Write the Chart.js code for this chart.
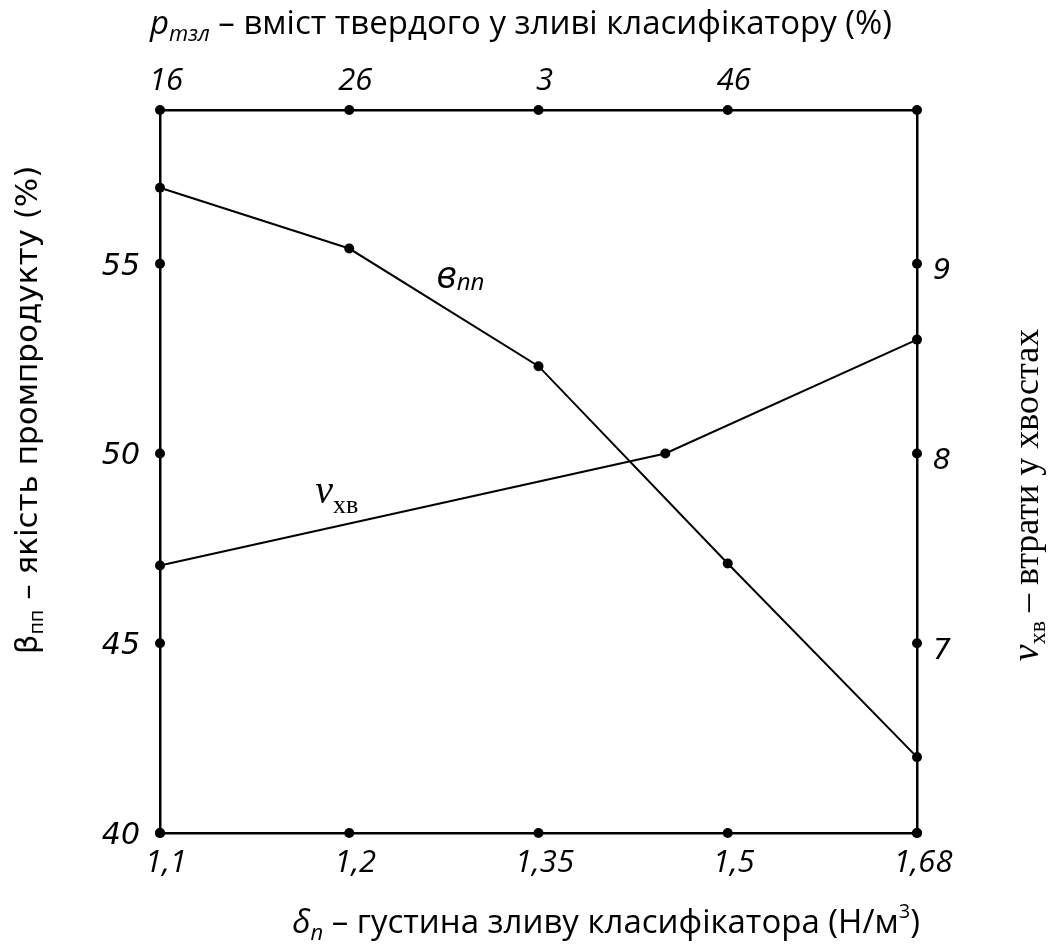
<!DOCTYPE html>
<html>
<head>
<meta charset="utf-8">
<script src="https://cdn.jsdelivr.net/npm/chart.js@4.4.0/dist/chart.umd.min.js"></script>
<style>
  html, body { margin: 0; background: #fff; }
  #wrap { width: 1053px; height: 949px; }
</style>
</head>
<body>
<div id="wrap"><canvas id="chart"></canvas></div>
<script>
// density of classifier overflow, plotted at equal spacing
const categories = ['1,1', '1,2', '1,35', '1,5', '1,68'];
const topLabels = ['16', '26', '3', '46', ''];

const betaX = [0, 1, 2, 3, 4];
const betaValues = [57.0, 55.4, 52.3, 47.1, 42.0];

const nuX = [0, 2.67, 4];
const nuValues = [7.41, 8.0, 8.6];

const leftTicks = [40, 45, 50, 55];
const rightTicks = [6, 7, 8, 9];
const rightTickLabels = ['', '7', '8', '9'];

const leftRange = [40, 59.05];
const rightRange = [6, 9.81];

// where the curve names sit (x index, value on own axis)
const betaLabelAt = [1.46, 54.35];
const nuLabelAt = [0.82, 7.74];

const SANS = '"Open Sans"';
const VERD = '"DejaVu Sans"';
const SERIF = '"Liberation Serif"';

function drawParts(ctx, parts, x, y, align) {
  let w = 0;
  parts.forEach(p => { ctx.font = p[1]; w += ctx.measureText(p[0]).width; });
  let cx = align === 'center' ? x - w / 2 : x;
  parts.forEach(p => {
    ctx.font = p[1];
    ctx.fillText(p[0], cx, y + (p[2] || 0));
    cx += ctx.measureText(p[0]).width;
  });
}

const decorations = {
  id: 'decorations',
  afterDraw(chart) {
    const ctx = chart.ctx;
    const area = chart.chartArea;
    const sc = chart.scales;
    ctx.save();
    ctx.fillStyle = '#000';
    ctx.textBaseline = 'alphabetic';

    // dots on the frame at every tick
    Object.values(sc).forEach(s => {
      s.ticks.forEach(t => {
        const p = s.getPixelForValue(t.value);
        let x, y;
        if (s.isHorizontal()) { x = p; y = s.position === 'bottom' ? area.bottom : area.top; }
        else { y = p; x = s.position === 'left' ? area.left : area.right; }
        ctx.beginPath();
        ctx.arc(x, y, 5, 0, Math.PI * 2);
        ctx.fill();
      });
    });

    // top title
    drawParts(ctx, [
      ['p', 'italic 33px ' + SANS],
      ['тзл', 'italic 22px ' + SANS, 7],
      [' – вміст твердого у зливі класифікатору (%)', '33px ' + SANS]
    ], 521, 34, 'center');

    // bottom title
    drawParts(ctx, [
      ['δ', 'italic 33px ' + SANS],
      ['п', 'italic 22px ' + SANS, 7],
      [' – густина зливу класифікатора (Н/м', '33px ' + SANS],
      ['3', '20px ' + SANS, -15],
      [')', '33px ' + SANS]
    ], 606, 933, 'center');

    // left title
    ctx.save();
    ctx.translate(37, 410);
    ctx.rotate(-Math.PI / 2);
    drawParts(ctx, [
      ['β', '31px ' + VERD],
      ['пп', '19px ' + VERD, 6],
      [' – якість промпродукту (%)', '31px ' + VERD]
    ], 0, 0, 'center');
    ctx.restore();

    // right title
    ctx.save();
    ctx.translate(1038, 495);
    ctx.rotate(-Math.PI / 2);
    drawParts(ctx, [
      ['ν', 'italic 38px ' + SERIF],
      ['хв', '24px ' + SERIF, 7],
      [' – втрати у хвостах', '36px ' + SERIF]
    ], 0, 0, 'center');
    ctx.restore();

    // curve names
    drawParts(ctx, [
      ['в', 'italic 38px ' + SANS],
      ['пп', 'italic 24px ' + SANS, 2]
    ], sc.x.getPixelForValue(betaLabelAt[0]), sc.y.getPixelForValue(betaLabelAt[1]), 'left');
    drawParts(ctx, [
      ['ν', 'italic 40px ' + SERIF],
      ['хв', '26px ' + SERIF, 10]
    ], sc.x.getPixelForValue(nuLabelAt[0]), sc.y2.getPixelForValue(nuLabelAt[1]), 'left');

    ctx.restore();
  }
};

const frame = { display: true, color: '#000', width: 2.5 };
const noGrid = { display: false, drawTicks: false };

new Chart(document.getElementById('chart'), {
  type: 'line',
  data: {
    datasets: [
      {
        label: 'β пп',
        data: betaX.map((x, i) => ({ x: x, y: betaValues[i] })),
        xAxisID: 'x', yAxisID: 'y',
        borderColor: '#000', borderWidth: 2,
        pointRadius: 5, pointBackgroundColor: '#000', pointBorderWidth: 0,
        tension: 0, clip: false
      },
      {
        label: 'ν хв',
        data: nuX.map((x, i) => ({ x: x, y: nuValues[i] })),
        xAxisID: 'x', yAxisID: 'y2',
        borderColor: '#000', borderWidth: 2,
        pointRadius: 5, pointBackgroundColor: '#000', pointBorderWidth: 0,
        tension: 0, clip: false
      }
    ]
  },
  options: {
    responsive: true,
    maintainAspectRatio: false,
    animation: false,
    layout: { padding: 0 },
    plugins: { legend: { display: false }, tooltip: { enabled: false } },
    scales: {
      x: {
        type: 'linear', position: 'bottom', min: 0, max: 4,
        grid: noGrid, border: frame,
        afterBuildTicks: s => { s.ticks = categories.map((c, i) => ({ value: i })); },
        afterFit: s => { s.height = 116; },
        ticks: {
          autoSkip: false, maxRotation: 0, padding: 12, color: '#000',
          labelOffset: 6,
          font: { family: 'Open Sans', size: 31, style: 'italic' },
          callback: (v, i) => categories[i]
        }
      },
      x2: {
        type: 'linear', position: 'top', min: 0, max: 4,
        grid: noGrid, border: frame,
        afterBuildTicks: s => { s.ticks = topLabels.map((c, i) => ({ value: i })); },
        afterFit: s => { s.height = 110; },
        ticks: {
          autoSkip: false, maxRotation: 0, padding: 10, color: '#000',
          labelOffset: 6,
          font: { family: 'Open Sans', size: 31, style: 'italic' },
          callback: (v, i) => topLabels[i]
        }
      },
      y: {
        type: 'linear', position: 'left', min: leftRange[0], max: leftRange[1],
        grid: noGrid, border: frame,
        afterBuildTicks: s => { s.ticks = leftTicks.map(v => ({ value: v })); },
        afterFit: s => { s.width = 160; },
        ticks: {
          autoSkip: false, padding: 20, color: '#000', labelOffset: 3,
          font: { family: 'DejaVu Sans', size: 30, style: 'italic' },
          callback: v => String(v)
        }
      },
      y2: {
        type: 'linear', position: 'right', min: rightRange[0], max: rightRange[1],
        grid: noGrid, border: frame,
        afterBuildTicks: s => { s.ticks = rightTicks.map(v => ({ value: v })); },
        afterFit: s => { s.width = 136; },
        ticks: {
          autoSkip: false, padding: 16, color: '#000', labelOffset: 8,
          font: { family: 'DejaVu Sans', size: 28, style: 'italic' },
          callback: (v, i) => rightTickLabels[i]
        }
      }
    }
  },
  plugins: [decorations]
});
</script>
</body>
</html>
